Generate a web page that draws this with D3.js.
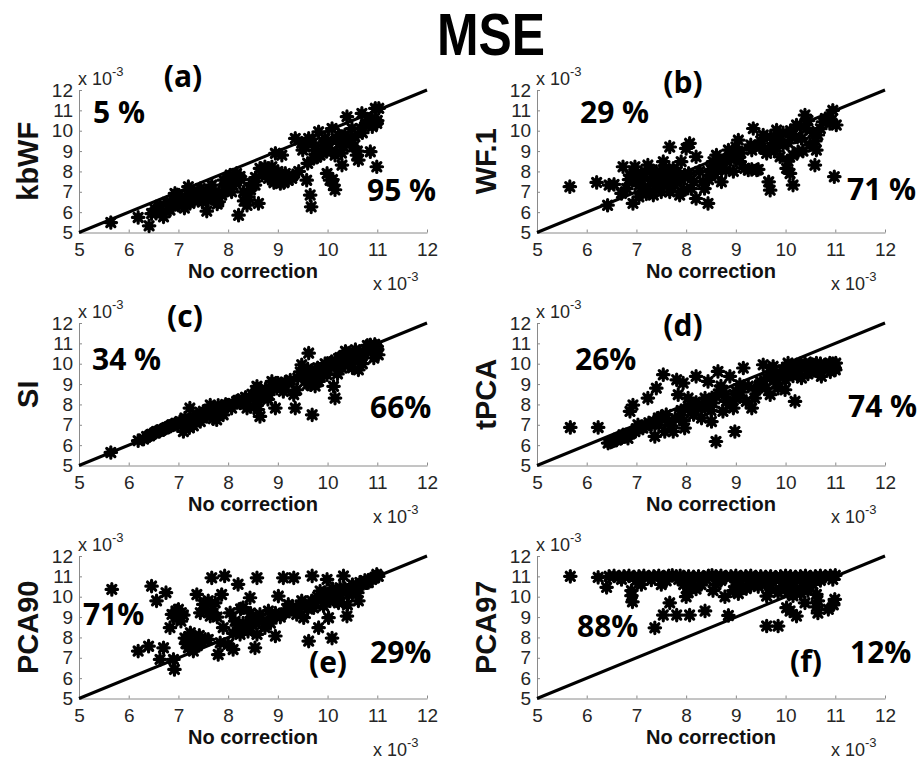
<!DOCTYPE html>
<html>
<head>
<meta charset="utf-8">
<script src="https://cdn.jsdelivr.net/npm/d3@7"></script>
<style>
  body { margin: 0; background: #fff; }
</style>
</head>
<body>
<svg id="chart" width="920" height="760"></svg>
<script>
// MSE per sample, in units of 1e-3: [no correction, corrected]
const kbWF = [
  [5.64,5.49],[6.19,5.74],[6.41,5.33],[6.46,5.93],[6.53,6.15],[6.63,6.34],[6.70,5.77],[6.77,6.48],
  [6.83,6.10],[6.90,6.59],[6.93,6.92],[7.00,6.34],[7.07,6.75],[7.13,6.67],[7.20,7.25],[7.23,6.43],
  [7.30,7.00],[7.37,6.67],[7.44,7.16],[7.50,6.84],[7.57,6.05],[7.60,6.59],[7.67,7.33],[7.74,7.00],
  [7.81,6.51],[7.87,6.84],[7.91,7.57],[7.97,7.33],[8.04,7.82],[8.07,7.00],[8.14,7.49],[8.21,5.85],
  [8.17,7.90],[8.24,7.75],[8.31,7.00],[8.38,6.34],[8.41,6.75],[8.48,7.41],[8.54,7.33],[8.61,6.43],
  [8.64,8.15],[8.68,7.82],[8.74,8.23],[8.81,7.66],[8.88,8.23],[8.95,8.89],[8.98,7.66],[9.05,7.41],
  [9.08,8.80],[9.15,7.90],[9.21,7.57],[9.28,7.66],[9.35,9.62],[9.42,8.00],[9.48,9.39],[9.55,9.20],
  [9.58,7.57],[9.62,9.62],[9.65,6.84],[9.67,6.26],[9.72,8.64],[9.75,9.05],[9.82,9.95],[9.85,8.80],
  [9.92,9.30],[9.95,9.62],[9.99,7.90],[10.02,9.13],[10.05,7.57],[10.09,10.11],[10.12,7.33],[10.15,8.80],
  [10.22,9.79],[10.25,9.38],[10.29,8.31],[10.32,9.21],[10.39,10.69],[10.42,9.56],[10.49,10.11],[10.52,9.21],
  [10.59,8.80],[10.62,8.56],[10.66,10.11],[10.69,10.85],[10.76,10.28],[10.86,8.97],[10.89,10.61],[10.96,11.10],
  [10.99,10.36],[10.99,8.23],[11.03,11.10],
  [6.55,5.95],[6.75,6.05],[6.88,6.35],[7.05,6.55],[7.12,6.20],[7.25,6.85],[7.32,6.60],[7.40,7.00],
  [7.48,6.50],[7.55,6.80],[7.62,7.10],[7.70,6.90],[7.78,6.40],[7.82,6.95],[7.95,7.05],[8.02,7.55],
  [8.10,7.30],[8.25,7.60],[8.32,6.55],[8.45,7.10],[8.55,7.70],[8.70,8.05],[8.85,7.95],[8.92,7.45],
  [9.00,8.00],[9.10,7.80],[9.12,7.45],[9.30,7.80],[9.50,9.05],[9.60,8.40],[9.70,9.40],[9.78,8.70],
  [9.90,8.90],[10.00,9.50],[10.08,9.00],[10.18,9.60],[10.28,8.90],[10.35,9.80],[10.45,9.40],[10.55,9.70],
  [10.60,9.00],[10.70,9.90],[10.80,10.50],[10.90,10.20],[11.00,10.50],[7.20,6.50],[6.98,6.85],[10.10,7.60],
  [10.15,7.10]
];

const wf1 = [
  [5.66,7.25],[6.20,7.46],[6.42,6.34],[6.45,7.33],[6.55,7.36],[6.70,6.92],[6.73,8.23],[6.80,7.16],
  [6.87,7.82],[6.93,6.43],[6.97,8.23],[7.00,7.49],[7.05,6.75],[7.10,7.90],[7.17,7.16],[7.23,8.31],
  [7.30,7.57],[7.34,6.84],[7.40,8.00],[7.47,7.33],[7.54,8.48],[7.60,7.74],[7.67,9.20],[7.67,7.00],
  [7.74,8.15],[7.80,7.49],[7.87,6.84],[7.90,8.48],[7.97,7.82],[8.00,9.13],[8.07,9.38],[8.10,7.16],
  [8.20,6.67],[8.20,8.72],[8.27,8.00],[8.34,7.49],[8.37,7.16],[8.44,6.43],[8.47,7.82],[8.54,8.48],
  [8.61,8.80],[8.64,8.15],[8.71,7.49],[8.78,8.56],[8.85,9.05],[8.95,8.00],[8.98,8.80],[9.05,9.54],
  [9.08,8.48],[9.18,8.15],[9.25,8.07],[9.32,9.05],[9.35,10.11],[9.42,8.07],[9.48,9.20],[9.55,9.79],
  [9.62,8.89],[9.66,7.49],[9.69,7.08],[9.75,9.38],[9.82,10.03],[9.89,8.72],[9.95,9.29],[10.02,8.15],
  [10.09,7.90],[10.12,9.70],[10.15,7.33],[10.22,10.28],[10.25,8.97],[10.32,9.62],[10.39,10.77],[10.42,10.11],
  [10.49,9.30],[10.59,8.31],[10.62,9.05],[10.65,9.79],[10.75,10.44],[10.89,10.36],[10.95,11.00],[10.98,7.74],
  [11.02,10.28],
  [6.85,7.60],[6.95,7.90],[7.05,7.30],[7.15,7.70],[7.20,6.90],[7.28,8.00],[7.38,7.30],[7.45,7.70],
  [7.50,7.00],[7.58,8.10],[7.62,7.40],[7.70,7.90],[7.72,7.20],[7.82,8.00],[7.90,7.60],[7.95,7.10],
  [8.05,7.90],[8.15,7.50],[8.45,7.60],[8.50,8.10],[8.58,7.90],[8.65,8.60],[8.70,8.30],[8.90,8.60],
  [9.00,9.20],[9.10,8.90],[9.30,9.30],[9.50,9.50],[9.58,9.10],[9.70,9.70],[9.78,9.00],[9.85,9.60],
  [9.95,9.90],[10.05,9.40],[10.10,10.00],[10.20,9.70],[10.30,10.20],[10.35,9.00],[10.45,10.50],[10.55,9.90],
  [10.60,9.50],[10.70,10.10],[10.80,10.60],[10.92,10.50],[10.05,8.50],[10.15,8.80],[9.45,8.10],[9.32,8.10],
  [8.80,8.05]
];

const si = [
  [5.64,5.64],[6.19,6.22],[6.36,6.43],[6.46,6.54],[6.56,6.67],[6.66,6.75],[6.77,6.87],[6.87,7.00],
  [6.93,7.03],[7.03,7.16],[7.10,6.67],[7.13,7.33],[7.20,7.00],[7.23,7.82],[7.30,7.33],[7.37,7.49],
  [7.44,7.16],[7.50,7.66],[7.57,7.41],[7.64,7.97],[7.70,7.57],[7.77,7.25],[7.84,7.82],[7.90,7.49],
  [8.00,7.97],[8.07,7.82],[8.17,8.15],[8.24,8.07],[8.31,8.23],[8.38,7.82],[8.44,7.90],[8.51,8.31],
  [8.58,8.89],[8.61,8.15],[8.64,7.41],[8.71,8.56],[8.81,8.48],[8.88,9.13],[8.95,7.82],[8.98,8.80],
  [9.05,8.97],[9.11,8.64],[9.21,9.05],[9.32,8.48],[9.35,7.82],[9.38,8.72],[9.48,9.95],[9.55,9.38],
  [9.62,10.52],[9.66,8.97],[9.69,7.49],[9.75,9.70],[9.82,9.13],[9.89,9.79],[9.99,9.46],[10.05,10.03],
  [10.12,8.89],[10.15,8.31],[10.22,10.26],[10.29,9.79],[10.36,10.61],[10.42,9.95],[10.49,10.20],[10.56,10.69],
  [10.62,9.70],[10.69,10.36],[10.79,10.69],[10.86,10.93],[10.93,10.28],[10.99,10.85],[11.02,10.44],
  [6.30,6.30],[6.42,6.46],[6.52,6.60],[6.62,6.68],[6.72,6.80],[6.82,6.92],[6.98,7.05],[7.08,7.10],
  [7.18,7.20],[7.26,7.25],[7.35,7.35],[7.42,7.45],[7.48,7.40],[7.55,7.60],[7.62,7.55],[7.68,7.75],
  [7.75,7.65],[7.80,7.95],[7.88,7.80],[7.95,8.00],[8.10,8.05],[8.20,8.20],[8.35,8.35],[8.48,8.50],
  [8.55,8.50],[8.65,8.70],[8.75,8.75],[8.85,8.80],[9.00,9.05],[9.15,9.10],[9.25,9.20],[9.40,9.30],
  [9.45,9.60],[9.58,9.20],[9.60,9.75],[9.70,9.50],[9.80,9.80],[9.85,9.40],[9.95,10.00],[10.00,9.70],
  [10.08,10.10],[10.18,9.90],[10.25,10.30],[10.32,10.00],[10.40,10.50],[10.45,10.20],[10.52,10.50],[10.58,10.30],
  [10.65,10.60],[10.72,10.50],[10.80,10.90],[10.88,10.60],[10.95,10.95],[11.00,10.70],[7.22,6.85],[7.30,6.95],
  [7.70,7.30],[8.60,7.75],[8.80,8.25],[9.60,9.00],[9.75,8.90],[10.20,9.50],[10.50,9.80],[10.70,10.00]
];

const tpca = [
  [5.67,6.87],[6.23,6.87],[6.43,6.10],[6.53,6.21],[6.63,6.34],[6.73,6.51],[6.83,6.34],[6.87,7.66],
  [6.93,7.97],[6.97,6.67],[7.03,7.00],[7.13,6.84],[7.23,8.31],[7.30,7.00],[7.37,6.43],[7.40,8.80],
  [7.44,7.33],[7.54,9.46],[7.57,6.67],[7.64,7.16],[7.74,6.67],[7.81,9.21],[7.84,8.48],[7.87,7.33],
  [7.94,9.05],[7.97,6.84],[8.04,8.31],[8.10,7.66],[8.20,9.38],[8.24,7.97],[8.31,7.33],[8.38,8.31],
  [8.44,9.13],[8.51,7.16],[8.54,8.07],[8.60,6.18],[8.64,9.62],[8.68,8.72],[8.74,7.66],[8.81,8.15],
  [8.88,9.38],[8.95,7.82],[8.98,6.67],[9.01,8.64],[9.08,8.97],[9.15,9.79],[9.21,8.15],[9.32,7.82],
  [9.38,8.31],[9.48,8.97],[9.55,9.95],[9.62,9.30],[9.69,8.48],[9.75,9.87],[9.82,9.05],[9.89,9.46],
  [9.99,8.72],[10.05,10.03],[10.12,9.62],[10.19,8.15],[10.22,9.95],[10.32,9.30],[10.39,10.03],[10.49,9.62],
  [10.55,9.95],[10.62,10.03],[10.72,9.38],[10.79,9.95],[10.89,10.03],[10.99,9.79],[11.01,10.03],
  [6.48,6.15],[6.60,6.25],[6.70,6.35],[6.78,6.50],[6.90,6.60],[7.00,6.80],[7.08,6.90],[7.18,6.95],
  [7.25,7.10],[7.35,7.15],[7.45,7.00],[7.50,7.40],[7.60,7.50],[7.70,6.95],[7.78,7.30],[7.90,7.70],
  [7.95,7.20],[8.05,7.90],[8.15,7.50],[8.20,8.10],[8.30,7.80],[8.42,8.00],[8.50,7.70],[8.60,8.40],
  [8.70,8.90],[8.80,8.50],[8.90,8.00],[9.00,8.30],[9.10,8.60],[9.25,8.90],[9.40,8.70],[9.50,9.10],
  [9.60,8.80],[9.70,9.60],[9.78,9.20],[9.85,8.80],[9.95,9.70],[10.00,9.20],[10.10,9.90],[10.15,9.40],
  [10.25,9.70],[10.30,10.00],[10.40,9.80],[10.45,9.50],[10.50,10.00],[10.60,9.80],[10.65,9.60],[10.70,10.00],
  [10.75,9.85],[10.85,9.90],[10.95,10.00],[11.00,9.70],[10.90,9.60]
];

const pca90 = [
  [5.66,10.36],[6.19,7.33],[6.40,7.57],[6.46,10.52],[6.56,9.80],[6.63,6.92],[6.70,7.49],[6.75,10.20],
  [6.83,8.48],[6.87,9.13],[6.90,6.92],[6.92,6.43],[6.97,8.97],[7.00,9.38],[7.06,9.21],[7.13,7.97],
  [7.20,7.49],[7.24,8.23],[7.30,7.33],[7.34,7.74],[7.37,10.11],[7.44,9.21],[7.50,9.62],[7.54,7.90],
  [7.60,7.90],[7.64,9.05],[7.67,10.93],[7.74,9.70],[7.80,7.16],[7.84,7.74],[7.87,10.11],[7.90,8.48],
  [7.93,11.02],[8.00,7.66],[8.04,9.21],[8.10,7.41],[8.14,8.80],[8.20,10.61],[8.24,8.15],[8.30,9.46],
  [8.37,8.48],[8.44,9.95],[8.47,8.97],[8.54,7.49],[8.58,10.93],[8.58,8.15],[8.64,9.13],[8.74,8.48],
  [8.81,9.30],[8.88,8.97],[8.95,8.07],[9.01,10.03],[9.11,10.93],[9.15,9.21],[9.21,9.62],[9.32,10.93],
  [9.38,9.13],[9.48,9.80],[9.52,8.97],[9.62,7.82],[9.69,11.02],[9.72,9.46],[9.82,8.48],[9.85,10.28],
  [9.92,9.54],[9.99,10.85],[10.02,8.97],[10.09,7.97],[10.12,10.11],[10.19,9.80],[10.25,10.44],[10.32,11.02],
  [10.39,9.05],[10.42,10.11],[10.52,10.44],[10.62,9.80],[10.69,10.61],[10.79,10.69],[10.89,10.85],[10.99,11.10],
  [7.15,7.70],[7.22,7.90],[7.28,7.55],[7.38,7.60],[7.42,8.10],[7.10,9.10],[7.05,8.80],[6.95,9.30],
  [7.55,9.40],[7.60,9.80],[7.70,9.20],[7.78,9.00],[8.10,8.20],[8.20,8.60],[8.30,8.70],[8.40,8.30],
  [8.50,8.60],[8.60,8.90],[8.70,8.80],[8.85,8.70],[8.95,9.20],[9.05,9.00],[9.20,9.30],[9.30,9.50],
  [9.42,9.40],[9.55,9.60],[9.60,9.40],[9.68,9.80],[9.75,9.70],[9.80,10.00],[9.90,9.90],[9.95,10.20],
  [10.05,9.80],[10.10,10.40],[10.15,10.00],[10.22,9.70],[10.30,10.20],[10.35,10.40],[10.45,10.30],[10.50,10.60],
  [10.58,10.50],[10.65,10.70],[10.72,10.65],[10.75,10.80],[10.82,10.70],[10.90,10.90],[10.95,10.95],[11.02,11.00],
  [10.60,10.20],[10.40,9.60],[8.45,9.20],[8.25,9.40]
];

const pca97 = [
  [5.67,11.00],[6.23,10.95],[6.40,10.46],
  [6.45,11.00],[6.55,11.02],[6.65,10.98],[6.75,11.00],[6.85,11.02],[6.95,10.97],[7.05,11.00],[7.15,11.02],
  [7.25,10.98],[7.35,11.00],[7.45,11.03],[7.55,10.97],[7.65,11.02],[7.72,11.05],[7.80,11.00],[7.88,11.03],
  [7.95,10.98],[8.05,11.00],[8.15,10.97],[8.25,11.00],[8.35,10.96],[8.45,11.02],[8.52,11.05],[8.60,11.00],
  [8.70,11.03],[8.80,10.97],[8.90,11.00],[9.00,11.02],[9.10,10.98],[9.20,11.00],[9.30,11.02],[9.40,10.97],
  [9.50,11.00],[9.60,10.98],[9.70,11.00],[9.80,10.96],[9.90,11.00],[10.00,11.02],[10.10,11.00],[10.20,10.97],
  [10.30,11.00],[10.40,11.02],[10.50,10.98],[10.60,11.00],[10.70,11.02],[10.80,11.00],[10.90,11.03],[11.00,11.05],
  [6.70,10.85],[7.00,10.80],[7.30,10.82],[7.60,10.78],[7.85,10.85],[8.10,10.80],[8.40,10.85],[8.70,10.80],
  [9.00,10.78],[9.30,10.85],[9.55,10.80],[9.80,10.82],[10.10,10.75],[10.30,10.80],[10.50,10.85],[10.70,10.80],
  [10.95,10.85],
  [6.90,10.30],[6.90,10.05],[6.92,9.75],[7.37,8.47],[7.54,9.10],[7.67,9.70],[7.81,9.10],[8.07,9.10],
  [8.00,10.00],[8.04,10.20],[8.10,10.55],[8.20,10.38],[8.38,9.30],[8.54,10.30],[8.60,10.60],[8.78,10.00],
  [8.85,9.08],[8.95,10.30],[9.02,10.50],[9.05,10.15],[9.10,10.60],[9.21,10.40],[9.30,10.55],[9.45,10.50],
  [9.60,10.60],[9.62,10.03],[9.62,8.56],[9.85,8.56],[9.70,10.40],[9.85,10.20],[9.95,10.50],[10.02,9.46],
  [10.05,10.20],[10.09,9.30],[10.10,10.50],[10.15,10.05],[10.22,9.05],[10.20,10.35],[10.30,10.15],[10.35,10.50],
  [10.39,9.70],[10.45,10.30],[10.55,10.60],[10.62,10.11],[10.65,9.80],[10.62,9.50],[10.65,9.20],[10.86,9.38],
  [10.96,9.60],[10.99,9.87],[7.10,10.60],[7.50,10.60],[7.95,10.60],[8.30,10.60]
];

const tickValues = [5, 6, 7, 8, 9, 10, 11, 12];
const methodNames = ["kbWF", "WF.1", "SI", "tPCA", "PCA90", "PCA97"];
const panelLetters = ["(a)", "(b)", "(c)", "(d)", "(e)", "(f)"];
const shareAbove = ["5 %", "29 %", "34 %", "26%", "71%", "88%"];
const shareBelow = ["95 %", "71 %", "66%", "74 %", "29%", "12%"];
const seriesList = [kbWF, wf1, si, tpca, pca90, pca97];

// Panel placement and label offsets (relative to each plot's top-left corner)
const colLeft = [79, 537];
const rowTop = [90, 323, 556];
const plotW = 348, plotH = 142.5;
const labelPos = [
  { letter: [104, -3],  above: [14, 33],  below: [288, 111] },
  { letter: [146, 3],   above: [43, 33],  below: [310, 110] },
  { letter: [106, 4],   above: [13, 47],  below: [291, 95] },
  { letter: [146, 13],  above: [38, 47],  below: [311, 94] },
  { letter: [249, 117], above: [4, 69],   below: [291, 107] },
  { letter: [269, 116], above: [40, 81],  below: [313, 107] }
];

const svg = d3.select("#chart");
const boldFont = "'Open Sans', 'DejaVu Sans', sans-serif";
const axisFont = "Arial, 'Liberation Sans', sans-serif";

svg.append("text")
  .attr("x", 491).attr("y", 55)
  .attr("text-anchor", "middle")
  .attr("font-family", axisFont)
  .attr("font-weight", 700)
  .attr("font-size", 59)
  .attr("textLength", 108)
  .attr("lengthAdjust", "spacingAndGlyphs")
  .attr("fill", "#000")
  .text("MSE");

// MATLAB-style '*' marker: plus and cross overlaid
const asterisk = {
  draw(ctx, size) {
    const r = Math.sqrt(size) / 2;
    const d = r * Math.SQRT1_2;
    ctx.moveTo(-r, 0); ctx.lineTo(r, 0);
    ctx.moveTo(0, -r); ctx.lineTo(0, r);
    ctx.moveTo(-d, -d); ctx.lineTo(d, d);
    ctx.moveTo(-d, d); ctx.lineTo(d, -d);
  }
};
const markerPath = d3.symbol().type(asterisk).size(132)();

function exponentLabel(g, x, y) {
  const t = g.append("text")
    .attr("x", x).attr("y", y)
    .attr("font-family", axisFont)
    .attr("font-size", 18)
    .attr("fill", "#262626");
  t.append("tspan").text("x 10");
  t.append("tspan").attr("dy", -9).attr("font-size", 13).text("-3");
}

seriesList.forEach((data, i) => {
  const left = colLeft[i % 2];
  const top = rowTop[Math.floor(i / 2)];
  const g = svg.append("g").attr("transform", `translate(${left},${top})`);

  const x = d3.scaleLinear().domain([5, 12]).range([0, plotW]);
  const y = d3.scaleLinear().domain([5, 12]).range([plotH, 0]);

  const fmt = d3.format("d");
  const xAxis = g.append("g")
    .attr("transform", `translate(0,${plotH})`)
    .call(d3.axisBottom(x).tickValues(tickValues).tickFormat(fmt)
      .tickSizeInner(-3).tickSizeOuter(0).tickPadding(10));
  const yAxis = g.append("g")
    .call(d3.axisLeft(y).tickValues(tickValues).tickFormat(fmt)
      .tickSizeInner(-3).tickSizeOuter(0).tickPadding(6));

  [xAxis, yAxis].forEach(ax => {
    ax.attr("font-family", axisFont).attr("font-size", 19);
    ax.select(".domain").attr("stroke", "#8a8a8a").attr("stroke-width", 1);
    ax.selectAll(".tick line").attr("stroke", "#8a8a8a");
    ax.selectAll(".tick text").attr("fill", "#262626");
  });

  // Data points
  g.append("g")
    .selectAll("path")
    .data(data)
    .join("path")
    .attr("transform", d => `translate(${x(d[0])},${y(d[1])})`)
    .attr("d", markerPath)
    .attr("fill", "none")
    .attr("stroke", "#000")
    .attr("stroke-width", 3.2)
    .attr("stroke-linecap", "round");

  // Identity line
  g.append("line")
    .attr("x1", x(5)).attr("y1", y(5))
    .attr("x2", x(12)).attr("y2", y(12))
    .attr("stroke", "#000")
    .attr("stroke-width", 3);

  // Axis titles
  g.append("text")
    .attr("x", plotW / 2).attr("y", plotH + 45)
    .attr("text-anchor", "middle")
    .attr("font-family", axisFont)
    .attr("font-weight", 700)
    .attr("font-size", 20)
    .attr("fill", "#111")
    .text("No correction");

  g.append("text")
    .attr("transform", `translate(-41,${plotH / 2}) rotate(-90)`)
    .attr("text-anchor", "middle")
    .attr("font-family", axisFont)
    .attr("font-weight", 700)
    .attr("font-size", 29)
    .attr("fill", "#111")
    .text(methodNames[i]);

  exponentLabel(g, -1, -5);
  exponentLabel(g, plotW - 54, plotH + 57);

  // Panel letter and percentage annotations
  const pos = labelPos[i];
  g.append("text")
    .attr("x", pos.letter[0]).attr("y", pos.letter[1])
    .attr("text-anchor", "middle")
    .attr("font-family", boldFont).attr("font-weight", 700).attr("font-size", 30)
    .attr("fill", "#000")
    .text(panelLetters[i]);
  g.append("text")
    .attr("x", pos.above[0]).attr("y", pos.above[1])
    .attr("font-family", boldFont).attr("font-weight", 700).attr("font-size", 30)
    .attr("fill", "#000")
    .text(shareAbove[i]);
  g.append("text")
    .attr("x", pos.below[0]).attr("y", pos.below[1])
    .attr("font-family", boldFont).attr("font-weight", 700).attr("font-size", 30)
    .attr("fill", "#000")
    .text(shareBelow[i]);
});
</script>
</body>
</html>
